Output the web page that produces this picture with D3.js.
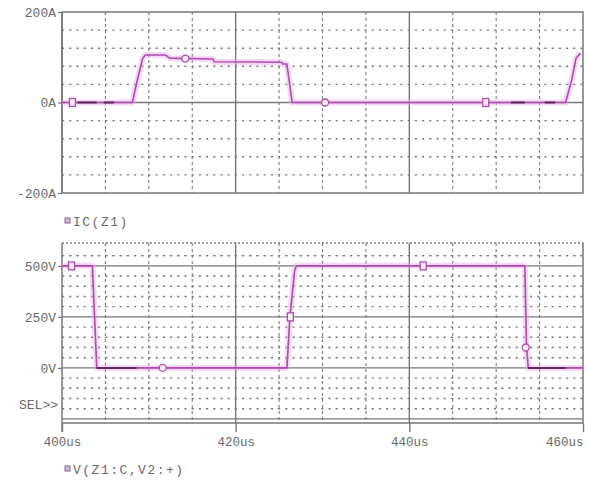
<!DOCTYPE html>
<html>
<head>
<meta charset="utf-8">
<script src="https://cdn.jsdelivr.net/npm/d3@7"></script>
<style>
  html, body { margin: 0; padding: 0; background: #fff; }
  svg { display: block; }
  text { font-family: "Liberation Mono", "DejaVu Sans Mono", monospace; fill: #6a6a6a; }
</style>
</head>
<body>
<svg id="chart" width="589" height="481"></svg>
<script>
// ---- Simulation traces (time in us) ----
const currentTime = [400, 408.1, 408.6, 409.3, 409.6, 411.9, 412.4, 417.4, 417.5, 425.3, 425.4, 425.9, 426.5, 458.0, 458.7, 459.2, 459.7];
const currentAmps = [0,   0,     43,    98,    105,   105,   98,    96,    90,    89,    85,    85,    0,     0,     50,    98,    109];

const voltageTime = [400, 403.5, 404.0, 425.9, 426.25, 426.8, 427.0, 453.3, 453.5, 453.7, 460];
const voltageVolts = [500, 500,  0,     0,     250,    480,   500,   500,   100,   0,     0];

// symbol markers placed along each trace
const currentMarkTime = [401.2, 414.2, 430.3, 448.8];
const currentMarkAmps = [0, 97, 0, 0];
const currentMarkShape = ["square", "circle", "circle", "square"];
const voltageMarkTime = [401.1, 411.6, 426.3, 441.6, 453.4];
const voltageMarkVolts = [500, 0, 250, 500, 100];
const voltageMarkShape = ["square", "circle", "square", "square", "circle"];

// darker overdrawn stretches of each trace (start/end time)
const currentDarkSpans = [[401.8, 404.0], [404.8, 406.0], [451.7, 453.3], [455.6, 456.8]];
const voltageDarkSpans = [[404.0, 408.6], [453.7, 458.0]];

// ---- Axis labels ----
const timeTicks = [400, 420, 440, 460];
const timeTickLabels = ["400us", "420us", "440us", "460us"];
const currentTicks = [200, 0, -200];
const currentTickLabels = ["200A", "0A", "-200A"];
const voltageTicks = [500, 250, 0];
const voltageTickLabels = ["500V", "250V", "0V"];
const currentLegend = "IC(Z1)";
const voltageLegend = "V(Z1:C,V2:+)";

const svg = d3.select("#chart");
const traceColor = "#b04ab0";
const haloColor = "#e6a8e6";
const gridDark = "#777";
const gridDot = "#7a7a7a";

const x = d3.scaleLinear().domain([400, 460]).range([62, 583]);
const yI = d3.scaleLinear().domain([-200, 200]).range([193, 12]);
const yV = d3.scaleLinear().domain([-270, 612]).range([423, 243]);

const minorTimes = d3.range(405, 460, 5).filter(t => t % 20 !== 0);

// ---------- grids ----------
function drawGrid(g, y, dotted, solid, top, bottom) {
  // dotted horizontal rows
  g.selectAll("line.hdot").data(dotted).join("line")
    .attr("x1", x(400)).attr("x2", x(460))
    .attr("y1", d => y(d)).attr("y2", d => y(d))
    .attr("stroke", gridDot).attr("stroke-width", 1.4)
    .attr("stroke-dasharray", "2.2,5");
  // dashed verticals
  g.selectAll("line.vdash").data(minorTimes).join("line")
    .attr("x1", d => x(d)).attr("x2", d => x(d))
    .attr("y1", top).attr("y2", bottom)
    .attr("stroke", gridDot).attr("stroke-width", 1.1)
    .attr("stroke-dasharray", "3,3");
  // solid horizontals
  g.selectAll("line.hsolid").data(solid).join("line")
    .attr("x1", x(400)).attr("x2", x(460))
    .attr("y1", d => y(d)).attr("y2", d => y(d))
    .attr("stroke", gridDark).attr("stroke-width", 1.4);
  // solid verticals at 20us divisions
  g.selectAll("line.vsolid").data([420, 440]).join("line")
    .attr("x1", d => x(d)).attr("x2", d => x(d))
    .attr("y1", top).attr("y2", bottom)
    .attr("stroke", gridDark).attr("stroke-width", 1.4);
}

// top plot: current
const gTop = svg.append("g");
const iDots = d3.range(-160, 200, 40).filter(v => v !== 0);
drawGrid(gTop, yI, iDots, [0], yI(200), yI(-200));
gTop.append("rect")
  .attr("x", x(400)).attr("y", yI(200))
  .attr("width", x(460) - x(400)).attr("height", yI(-200) - yI(200))
  .attr("fill", "none").attr("stroke", gridDark).attr("stroke-width", 1.5);

// bottom plot: voltage
const gBot = svg.append("g");
const vDots = d3.range(-200, 600, 50).filter(v => v % 250 !== 0).concat([550]);
drawGrid(gBot, yV, vDots, [500, 250, 0, -250], yV(612), yV(-270));
gBot.append("line")
  .attr("x1", x(400)).attr("x2", x(460)).attr("y1", yV(612)).attr("y2", yV(612))
  .attr("stroke", gridDot).attr("stroke-width", 1.4).attr("stroke-dasharray", "2,2");
gBot.append("line")
  .attr("x1", x(400)).attr("x2", x(460)).attr("y1", yV(-270)).attr("y2", yV(-270))
  .attr("stroke", gridDark).attr("stroke-width", 1.5);
gBot.append("line")
  .attr("x1", x(460)).attr("x2", x(460)).attr("y1", yV(612)).attr("y2", yV(-270))
  .attr("stroke", gridDark).attr("stroke-width", 1.5);

// time axis with long ticks below the bottom frame
const xAxis = d3.axisBottom(x).tickValues(timeTicks)
  .tickFormat((d, i) => timeTickLabels[i]).tickSize(9).tickPadding(5);
const gx = svg.append("g").attr("transform", `translate(0,${yV(-270)})`).call(xAxis);
gx.select(".domain").remove();
gx.selectAll(".tick line").attr("stroke", gridDark).attr("stroke-width", 1.4);
gx.selectAll(".tick text").attr("font-size", 12.5).attr("fill", "#6a6a6a")
  .attr("font-family", "Liberation Mono, monospace");
gx.selectAll(".tick text").filter(d => d === 460).attr("text-anchor", "end").attr("dx", 0);

// left axes
function leftAxis(y, ticks, labels, top, bottom) {
  const ax = d3.axisLeft(y).tickValues(ticks).tickFormat((d, i) => labels[i])
    .tickSize(4).tickPadding(2);
  const g = svg.append("g").attr("transform", `translate(${x(400)},0)`).call(ax);
  g.select(".domain").remove();
  g.append("line").attr("x1", 0).attr("x2", 0).attr("y1", top).attr("y2", bottom)
    .attr("stroke", gridDark).attr("stroke-width", 1.5);
  g.selectAll(".tick line").attr("stroke", gridDark).attr("stroke-width", 1.2);
  g.selectAll(".tick text").attr("font-size", 13).attr("fill", "#6a6a6a")
    .attr("font-family", "Liberation Mono, monospace");
  return g;
}
leftAxis(yI, currentTicks, currentTickLabels, yI(200), yI(-200));
const gyV = leftAxis(yV, voltageTicks, voltageTickLabels, yV(612), yV(-270) + 9);
gyV.append("text").attr("x", -4).attr("y", yV(-180)).attr("dy", "0.32em")
  .attr("text-anchor", "end").attr("font-size", 13).text("SEL>>");

// ---------- traces ----------
function drawTrace(times, vals, y, darkSpans) {
  const pts = times.map((t, i) => [t, vals[i]]);
  const line = d3.line().x(d => x(d[0])).y(d => y(d[1]));
  const g = svg.append("g");
  g.append("path").attr("d", line(pts)).attr("fill", "none")
    .attr("stroke", haloColor).attr("stroke-width", 6).attr("stroke-opacity", 0.45)
    .attr("stroke-linejoin", "round");
  g.append("path").attr("d", line(pts)).attr("fill", "none")
    .attr("stroke", traceColor).attr("stroke-width", 1.6).attr("stroke-linejoin", "round");
  // value at a time
  const interp = t => {
    for (let i = 1; i < pts.length; i++) {
      if (t <= pts[i][0]) {
        const [t0, v0] = pts[i - 1], [t1, v1] = pts[i];
        return v0 + (v1 - v0) * (t - t0) / (t1 - t0);
      }
    }
    return pts[pts.length - 1][1];
  };
  g.selectAll("line.dark").data(darkSpans).join("line")
    .attr("x1", d => x(d[0])).attr("x2", d => x(d[1]))
    .attr("y1", d => y(interp(d[0]))).attr("y2", d => y(interp(d[1])))
    .attr("stroke", "#5a2a5a").attr("stroke-width", 2);
  return g;
}
function drawMarks(g, times, vals, shapes, y) {
  times.forEach((t, i) => {
    const cx = x(t), cy = y(vals[i]);
    if (shapes[i] === "square") {
      g.append("rect").attr("x", cx - 3).attr("y", cy - 4).attr("width", 6).attr("height", 8)
        .attr("fill", "#fbeefb").attr("stroke", traceColor).attr("stroke-width", 1.3);
    } else {
      g.append("ellipse").attr("cx", cx).attr("cy", cy).attr("rx", 3.5).attr("ry", 3.5)
        .attr("fill", "#fbeefb").attr("stroke", traceColor).attr("stroke-width", 1.3);
    }
  });
}
const gI = drawTrace(currentTime, currentAmps, yI, currentDarkSpans);
drawMarks(gI, currentMarkTime, currentMarkAmps, currentMarkShape, yI);
const gV = drawTrace(voltageTime, voltageVolts, yV, voltageDarkSpans);
drawMarks(gV, voltageMarkTime, voltageMarkVolts, voltageMarkShape, yV);

// ---------- legends ----------
function legend(label, ly) {
  const g = svg.append("g");
  g.append("rect").attr("x", 65).attr("y", ly - 3).attr("width", 5).attr("height", 5)
    .attr("fill", "#c9c0c9").attr("stroke", "#9a5a9a").attr("stroke-width", 1);
  g.append("text").attr("x", 73).attr("y", ly).attr("dy", "0.35em")
    .attr("font-size", 13).attr("letter-spacing", 1.5).text(label);
}
legend(currentLegend, 221);
legend(voltageLegend, 469);
</script>
</body>
</html>
